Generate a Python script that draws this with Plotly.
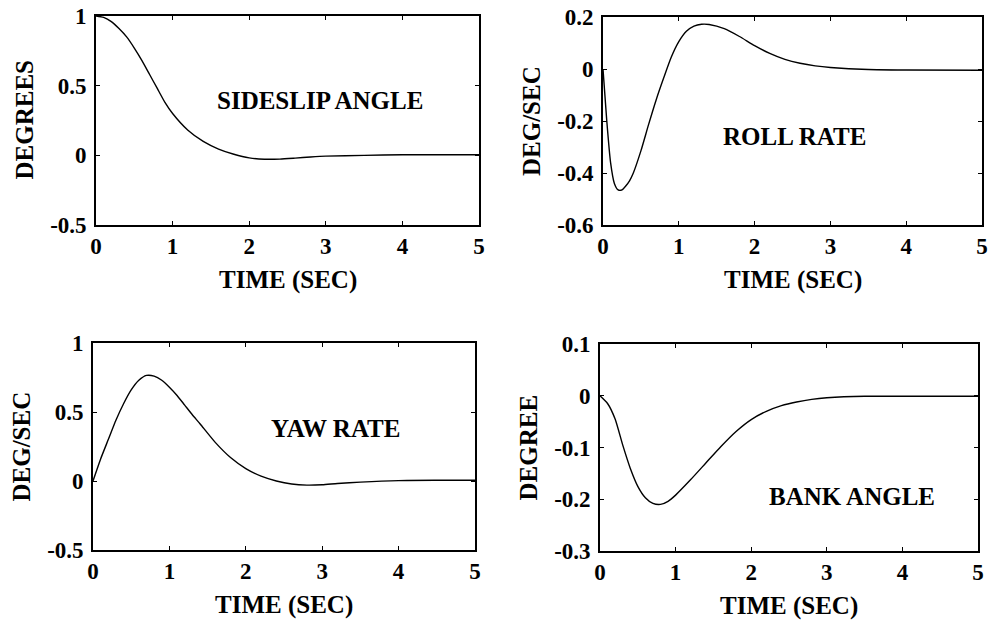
import plotly.graph_objects as go

# Time samples (s) and responses for each lateral-directional state
t_sideslip = [0, 0.1, 0.2, 0.3, 0.4, 0.5, 0.6, 0.7, 0.8, 0.9, 1.0, 1.2, 1.4, 1.6, 1.8,
              2.0, 2.2, 2.4, 2.6, 2.8, 3.0, 3.5, 4.0, 4.5, 5.0]
sideslip = [1.0, 0.99, 0.96, 0.91, 0.85, 0.77, 0.68, 0.58, 0.48, 0.38, 0.30, 0.18, 0.10,
            0.045, 0.008, -0.018, -0.028, -0.027, -0.02, -0.012, -0.006, 0.0, 0.004, 0.004, 0.004]

t_roll = [0, 0.05, 0.1, 0.15, 0.2, 0.25, 0.3, 0.35, 0.4, 0.5, 0.6, 0.7, 0.8, 0.9, 1.0, 1.1,
          1.2, 1.3, 1.4, 1.6, 1.8, 2.0, 2.2, 2.4, 2.6, 2.8, 3.0, 3.5, 4.0, 5.0]
roll_rate = [0.0, -0.2, -0.36, -0.44, -0.465, -0.465, -0.45, -0.43, -0.40, -0.315, -0.215,
             -0.12, -0.035, 0.045, 0.105, 0.145, 0.165, 0.172, 0.171, 0.155, 0.125, 0.09,
             0.06, 0.037, 0.022, 0.012, 0.006, -0.002, -0.004, -0.005]

t_yaw = [0, 0.1, 0.2, 0.3, 0.4, 0.5, 0.6, 0.7, 0.8, 0.9, 1.0, 1.1, 1.2, 1.3, 1.4, 1.6, 1.8,
         2.0, 2.2, 2.4, 2.6, 2.8, 3.0, 3.2, 3.5, 4.0, 4.5, 5.0]
yaw_rate = [0.0, 0.16, 0.30, 0.44, 0.56, 0.66, 0.73, 0.765, 0.76, 0.73, 0.68, 0.62, 0.55,
            0.48, 0.415, 0.28, 0.17, 0.09, 0.035, 0.0, -0.022, -0.03, -0.027, -0.018,
            -0.008, 0.003, 0.005, 0.005]

t_bank = [0, 0.1, 0.2, 0.3, 0.4, 0.5, 0.6, 0.7, 0.8, 0.9, 1.0, 1.2, 1.4, 1.6, 1.8, 2.0,
          2.2, 2.4, 2.6, 2.8, 3.0, 3.5, 4.0, 5.0]
bank_angle = [0.0, -0.015, -0.045, -0.095, -0.14, -0.175, -0.197, -0.208, -0.21, -0.204,
              -0.192, -0.162, -0.13, -0.098, -0.069, -0.046, -0.03, -0.019, -0.012, -0.007,
              -0.004, -0.001, -0.001, -0.001]

panel_names = ["SIDESLIP ANGLE", "ROLL RATE", "YAW RATE", "BANK ANGLE"]
x_title = "TIME (SEC)"
y_titles = ["DEGREES", "DEG/SEC", "DEG/SEC", "DEGREE"]
x_tick_values = [0, 1, 2, 3, 4, 5]
x_tick_labels = ["0", "1", "2", "3", "4", "5"]
y_tick_values = [[-0.5, 0, 0.5, 1], [-0.6, -0.4, -0.2, 0, 0.2],
                 [-0.5, 0, 0.5, 1], [-0.3, -0.2, -0.1, 0, 0.1]]
y_tick_labels = [["-0.5", "0", "0.5", "1"], ["-0.6", "-0.4", "-0.2", "0", "0.2"],
                 ["-0.5", "0", "0.5", "1"], ["-0.3", "-0.2", "-0.1", "0", "0.1"]]
label_pos = [(2.92, 0.39), (2.52, -0.26), (3.17, 0.38), (3.33, -0.194)]

series = [(t_sideslip, sideslip), (t_roll, roll_rate), (t_yaw, yaw_rate), (t_bank, bank_angle)]

W, H = 988, 623
# plot-area boxes in pixels: left, right, top, bottom
boxes = [(96, 479, 16, 225), (603, 982, 17, 225), (93, 475, 343, 550), (600, 978, 344, 551)]
X_TITLE_GAP = 55   # px from bottom axis line to x-title centre
Y_TITLE_GAP = 72   # px from left axis line to y-title centre

FONT = "Liberation Serif"
tick_font = dict(family=FONT, size=23, color="black", weight="bold")
title_font = dict(family=FONT, size=25, color="black", weight="bold")

fig = go.Figure()
layout = dict(
    width=W, height=H,
    margin=dict(l=0, r=0, t=0, b=0, autoexpand=False),
    paper_bgcolor="white", plot_bgcolor="white",
    showlegend=False,
    annotations=[],
)

for i, ((tx, ty), box) in enumerate(zip(series, boxes)):
    n = "" if i == 0 else str(i + 1)
    l, r, top, bot = box
    fig.add_trace(go.Scatter(
        x=tx, y=ty, mode="lines",
        line=dict(color="black", width=1.4, shape="spline", smoothing=0.6),
        xaxis="x" + n, yaxis="y" + n, hoverinfo="skip",
    ))
    common = dict(
        showline=True, linecolor="black", linewidth=1.7, mirror="ticks",
        ticks="inside", ticklen=4, tickwidth=1.3, tickcolor="black",
        showgrid=False, zeroline=False, tickfont=tick_font, automargin=False,
    )
    layout["xaxis" + n] = dict(
        common, domain=[l / W, r / W], range=[0, 5],
        tickvals=x_tick_values, ticktext=x_tick_labels, anchor="y" + n,
    )
    yv = y_tick_values[i]
    layout["yaxis" + n] = dict(
        common, domain=[1 - bot / H, 1 - top / H], range=[yv[0], yv[-1]],
        tickvals=yv, ticktext=y_tick_labels[i], anchor="x" + n, ticklabelstandoff=3,
    )
    lx, ly = label_pos[i]
    layout["annotations"] += [
        dict(x=lx, y=ly, xref="x" + n, yref="y" + n, text=panel_names[i], showarrow=False,
             xanchor="center", yanchor="middle", font=title_font),
        dict(x=(l + r) / 2 / W, y=1 - (bot + X_TITLE_GAP) / H, xref="paper", yref="paper",
             text=x_title, showarrow=False, xanchor="center", yanchor="middle",
             font=title_font),
        dict(x=(l - Y_TITLE_GAP) / W, y=1 - (top + bot) / 2 / H, xref="paper", yref="paper",
             text=y_titles[i], showarrow=False, xanchor="center", yanchor="middle",
             textangle=-90, font=title_font),
    ]

fig.update_layout(layout)
fig.write_html("out.html")
